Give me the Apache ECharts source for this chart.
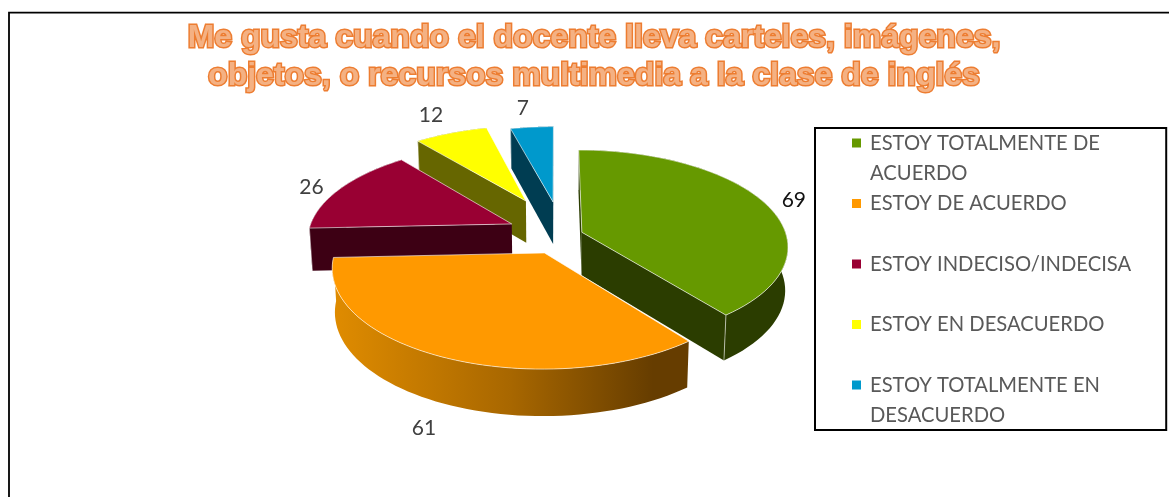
<!DOCTYPE html>
<html><head><meta charset="utf-8">
<style>html,body{margin:0;padding:0;background:#fff}#c{width:1169px;height:497px}</style>
<script src="https://cdn.jsdelivr.net/npm/echarts@6/dist/echarts.min.js"></script>
</head><body><div id="c"></div>
<script>
const titleText = 'Me gusta cuando el docente lleva carteles, imágenes,\nobjetos, o recursos multimedia a la clase de inglés';
const categories = ['ESTOY TOTALMENTE DE ACUERDO','ESTOY DE ACUERDO','ESTOY INDECISO/INDECISA','ESTOY EN DESACUERDO','ESTOY TOTALMENTE EN DESACUERDO'];
const legendWrapped = ['ESTOY TOTALMENTE DE\nACUERDO','ESTOY DE ACUERDO\n ','ESTOY INDECISO/INDECISA\n ','ESTOY EN DESACUERDO\n ','ESTOY TOTALMENTE EN\nDESACUERDO'];
const values = [69,61,26,12,7];
const topColors = ['#669900','#ff9900','#990033','#ffff00','#0099cc'];
const sideColors = ['#2b3d00','#6b4000','#3d0014','#666600','#003d52'];
const wallStops = [null,[[0,'#e08c00'],[0.5,'#a86700'],[0.9,'#663d00'],[1,'#663d00']],null,null,null];
const explodeU = [0.127,-0.055,-0.22,-0.155,-0.015];
const explodeV = [-0.05,0.164,-0.14,-0.40,-0.388];
const labelDX = [29,-18,-29,-20,-9];
const labelDY = [-3,71,-1,-18,-19];
const labelColors = ['#111111','#404040','#404040','#404040','#404040'];
const drawZ = [4,5,3,2,1];

const CX=556, CY=237, RX=205, RY=95, P=0.14, DEPTH=43, SHRINK=0.012;
const total = values.reduce((a,b)=>a+b,0);
function project(u,v,z){
  const s=1/(1-P*v), k=1-SHRINK*z;
  return [CX+RX*u*s*k, CY+RY*v*s+DEPTH*z*Math.sqrt(s)];
}
function area(pts){let a=0;for(let i=0;i<pts.length;i++){const p=pts[i],q=pts[(i+1)%pts.length];a+=p[0]*q[1]-q[0]*p[1];}return a/2;}

function makeRender(idx){
  return function(params,api){
    const before = values.slice(0,idx).reduce((a,b)=>a+b,0);
    const t0 = before/total*Math.PI*2, t1=(before+api.value(0))/total*Math.PI*2;
    const eu=explodeU[idx], ev=explodeV[idx];
    const pt=(th,r,z)=>project(eu+r*Math.sin(th), ev-r*Math.cos(th), z);
    const N=60, topArc=[], botArc=[];
    for(let i=0;i<=N;i++){const th=t0+(t1-t0)*i/N; topArc.push(pt(th,1,0)); botArc.push(pt(th,1,1));}
    const apex=pt(0,0,0), apexB=pt(0,0,1);
    const wallFill = wallStops[idx] ? new echarts.graphic.LinearGradient(0,0,1,0,wallStops[idx].map(s=>({offset:s[0],color:s[1]}))) : sideColors[idx];
    const children=[];
    children.push({type:'polygon',shape:{points:topArc.concat(botArc.slice().reverse())},style:{fill:wallFill}});
    const startFace=[apex,topArc[0],botArc[0],apexB];
    const endFace=[topArc[N],apex,apexB,botArc[N]];
    [[startFace,topArc[0],botArc[0]],[endFace,topArc[N],botArc[N]]].forEach(f=>{
      if(area(f[0])>0) return;
      children.push({type:'polygon',shape:{points:f[0]},style:{fill:sideColors[idx]}});
      children.push({type:'line',shape:{x1:f[1][0],y1:f[1][1],x2:f[2][0],y2:f[2][1]},style:{stroke:'rgba(255,255,255,0.55)',lineWidth:1}});
    });
    children.push({type:'polygon',shape:{points:[apex].concat(topArc)},style:{fill:topColors[idx],stroke:'rgba(255,255,255,0.6)',lineWidth:1,lineJoin:'round'}});
    const m=(t0+t1)/2, lp=pt(m,1,0);
    children.push({type:'text',style:{text:String(api.value(0)),x:lp[0]+labelDX[idx],y:lp[1]+labelDY[idx],fill:labelColors[idx],font:'21px Lato, sans-serif',align:'center',verticalAlign:'middle'}});
    return {type:'group',children};
  };
}

const LEGEND_ICON='path://M0 0L0 0M13 60L13 60M0 10.5L9 10.5L9 19.5L0 19.5Z';
const chart=echarts.init(document.getElementById('c'),null,{renderer:'canvas'});
chart.setOption({
  animation:false,
  backgroundColor:'#ffffff',
  color:topColors,
  title:{
    text:titleText,left:589,top:14,textAlign:'center',
    textStyle:{fontFamily:'Liberation Sans',fontWeight:'bold',fontSize:32,lineHeight:38,color:'#f4b183',textBorderColor:'#ed7d31',textBorderWidth:3}
  },
  legend:{
    orient:'vertical',left:815,top:128,padding:[0,35,0,37],itemGap:0.5,
    itemWidth:13,itemHeight:60,icon:LEGEND_ICON,
    borderColor:'#000',borderWidth:2,borderRadius:0,
    data:categories,
    formatter:n=>legendWrapped[categories.indexOf(n)],
    selectedMode:false,
    textStyle:{fontFamily:'Lato',fontSize:20.2,lineHeight:30,color:'#595959'}
  },
  graphic:[{type:'rect',silent:true,z:-1,shape:{x:9,y:12.7,width:1300,height:700},style:{fill:'none',stroke:'#000',lineWidth:1.8}}],
  series:categories.map((name,i)=>({
    type:'custom',name,coordinateSystem:'none',z:drawZ[i]+1,
    itemStyle:{color:topColors[i]},
    data:[[values[i]]],
    renderItem:makeRender(i),
    silent:true
  }))
});
</script></body></html>
